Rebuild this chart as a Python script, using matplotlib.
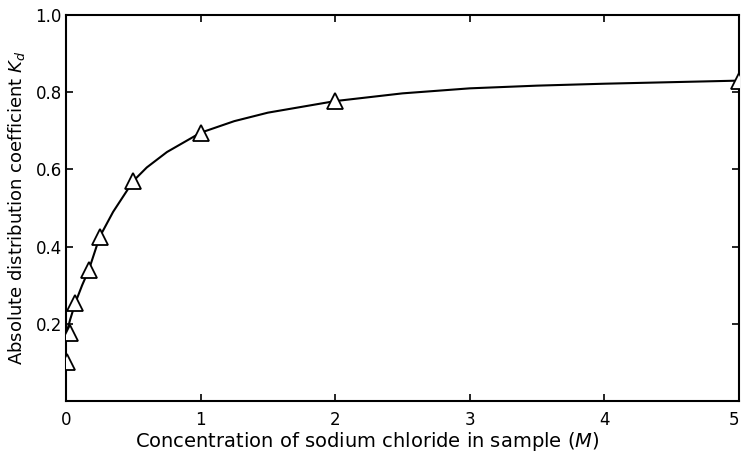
import matplotlib
matplotlib.use("Agg")
import matplotlib.pyplot as plt

# measured points (triangles)
conc = [0.01, 0.03, 0.07, 0.17, 0.25, 0.5, 1.0, 2.0, 5.0]
kd = [0.10, 0.175, 0.255, 0.34, 0.425, 0.57, 0.695, 0.777, 0.83]

# hand-drawn smooth curve
curve_x = [0.0, 0.03, 0.07, 0.12, 0.17, 0.25, 0.35, 0.5, 0.6, 0.75, 1.0, 1.25,
           1.5, 2.0, 2.5, 3.0, 3.5, 4.0, 4.5, 5.0]
curve_y = [0.17, 0.21, 0.255, 0.30, 0.34, 0.425, 0.49, 0.57, 0.605, 0.645, 0.695,
           0.725, 0.747, 0.777, 0.797, 0.81, 0.817, 0.822, 0.826, 0.83]

xticks = [0, 1, 2, 3, 4, 5]
yticks = [0.2, 0.4, 0.6, 0.8, 1.0]
ytick_labels = ["0.2", "0.4", "0.6", "0.8", "1.0"]

plt.rcParams['font.family'] = ['DejaVu Sans']
fig = plt.figure(figsize=(7.42, 4.57), dpi=100)
ax = fig.add_axes([66/742, 1-401/457, (739-66)/742, (401-15)/457])

ax.plot(curve_x, curve_y, color='black', lw=1.5, zorder=2)
ax.plot(conc, kd, linestyle='none', marker='^', markersize=11,
        markerfacecolor='white', markeredgecolor='black', markeredgewidth=1.3, zorder=3)

ax.set_xlim(0, 5)
ax.set_ylim(0, 1.0)
ax.set_xticks(xticks)
ax.set_xticklabels([str(t) for t in xticks], fontsize=12)
ax.set_yticks(yticks)
ax.set_yticklabels(ytick_labels, fontsize=12)
ax.tick_params(direction='in', length=5, width=1.2, top=True, right=True)
ax.tick_params(axis='x', pad=7)
ax.tick_params(axis='y', pad=3)
ax.get_xticklabels()[-1].set_horizontalalignment('right')
for s in ax.spines.values():
    s.set_linewidth(1.5)

ax.set_xlabel("Concentration of sodium chloride in sample ($\\it{M}$)", fontsize=14)
ax.xaxis.set_label_coords(0.447, -0.075)
ax.set_ylabel("Absolute distribution coefficient $\\it{K}_d$", fontsize=13)
ax.yaxis.set_label_coords(-0.058, 0.5)

fig.savefig("out.png", dpi=100)
